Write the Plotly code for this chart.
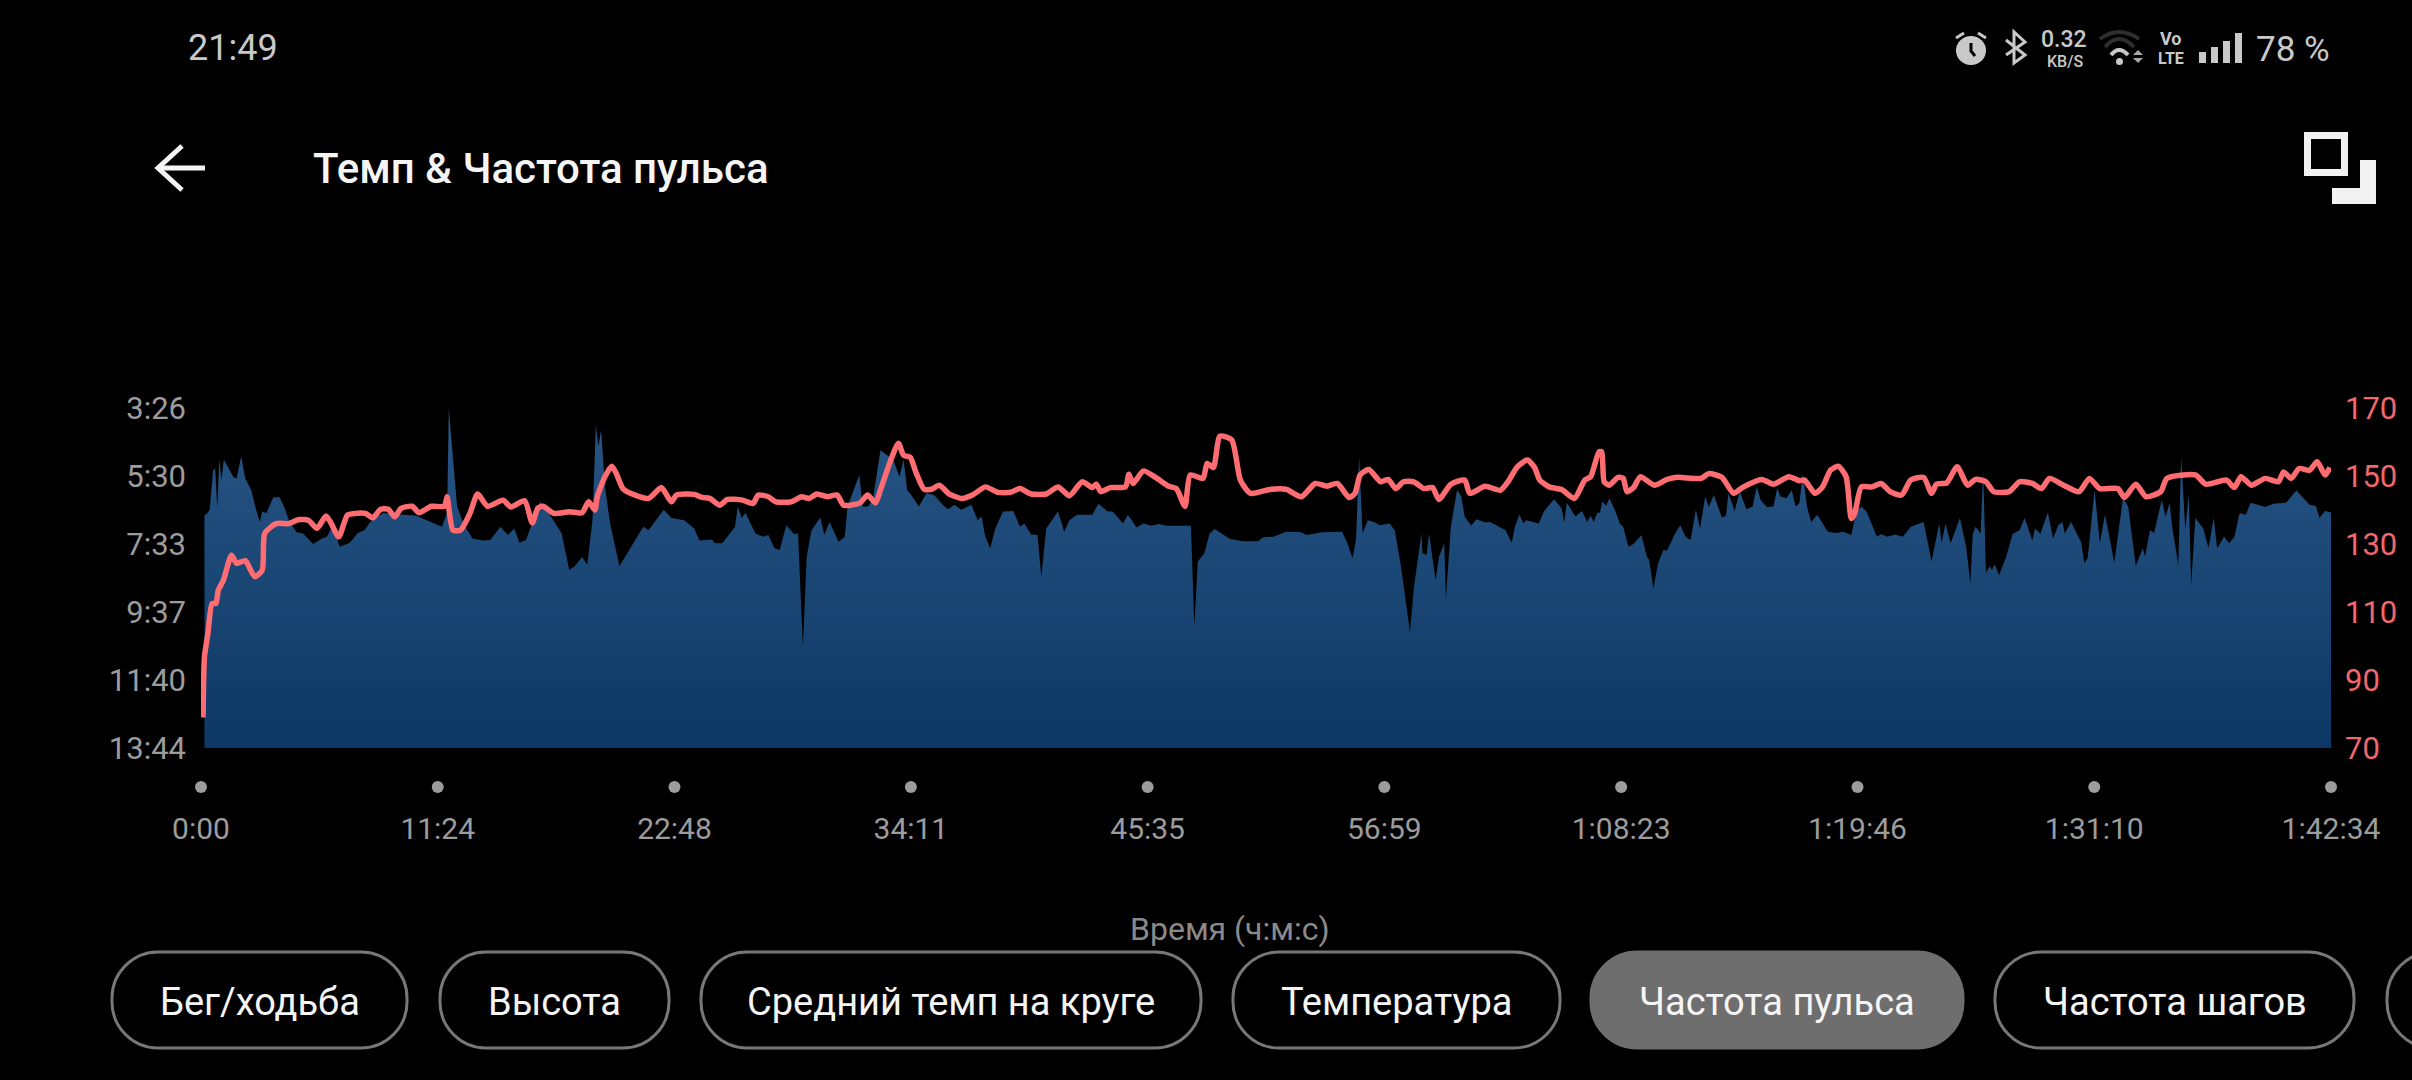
import plotly.graph_objects as go

# time in seconds, pace in seconds per km
pace_t = [10, 15, 25, 35, 41, 47, 53, 59, 66, 84, 94, 103, 116, 128, 145, 158, 170, 177, 189, 209,
          227, 242, 254, 276, 295, 324, 349, 364, 379, 389, 401, 430, 453, 472, 489, 526, 622, 652, 696, 711,
          716, 725, 740, 758, 784, 814, 836, 865, 887, 905, 920, 939, 961, 980, 1005, 1042, 1064, 1079, 1101, 1116,
          1131, 1141, 1148, 1156, 1167, 1182, 1209, 1226, 1253, 1278, 1293, 1337, 1359, 1396, 1425, 1440, 1477, 1484, 1506, 1543,
          1551, 1562, 1573, 1602, 1624, 1639, 1657, 1672, 1691, 1713, 1725, 1739, 1750, 1764, 1789, 1801, 1816, 1842, 1860, 1868,
          1902, 1912, 1927, 1941, 1963, 1986, 2000, 2018, 2030, 2040, 2052, 2074, 2096, 2118, 2143, 2158, 2177, 2196, 2226, 2244,
          2255, 2266, 2280, 2295, 2317, 2347, 2366, 2379, 2398, 2417, 2428, 2442, 2476, 2494, 2509, 2531, 2575, 2593, 2619, 2634,
          2664, 2678, 2703, 2723, 2745, 2767, 2789, 2860, 2870, 2880, 2899, 2914, 2929, 2973, 3010, 3054, 3069, 3098, 3135, 3179,
          3194, 3238, 3297, 3312, 3327, 3337, 3346, 3356, 3371, 3390, 3405, 3434, 3449, 3467, 3493, 3504, 3526, 3529, 3541, 3548,
          3567, 3577, 3592, 3597, 3611, 3629, 3641, 3651, 3670, 3685, 3710, 3725, 3769, 3787, 3796, 3809, 3821, 3828, 3850, 3865,
          3880, 3909, 3931, 3939, 3946, 3971, 3990, 4005, 4015, 4024, 4034, 4042, 4049, 4060, 4069, 4087, 4099, 4109, 4124, 4139,
          4162, 4177, 4184, 4196, 4210, 4225, 4236, 4259, 4274, 4289, 4304, 4319, 4331, 4346, 4356, 4371, 4394, 4406, 4413, 4431,
          4446, 4465, 4483, 4495, 4506, 4524, 4543, 4554, 4563, 4581, 4596, 4607, 4618, 4628, 4640, 4652, 4670, 4700, 4723, 4745,
          4768, 4783, 4797, 4812, 4842, 4854, 4872, 4895, 4917, 4940, 4977, 5000, 5022, 5029, 5040, 5055, 5082, 5100, 5112, 5119,
          5127, 5142, 5149, 5157, 5167, 5175, 5182, 5195, 5216, 5234, 5254, 5269, 5291, 5299, 5314, 5336, 5351, 5366, 5378, 5385,
          5403, 5433, 5441, 5451, 5471, 5486, 5501, 5528, 5553, 5568, 5590, 5610, 5617, 5631, 5643, 5665, 5676, 5688, 5695, 5713,
          5721, 5733, 5743, 5750, 5762, 5785, 5800, 5815, 5825, 5845, 5860, 5875, 5890, 5908, 5922, 5964, 5987, 6024, 6054, 6092,
          6110, 6121, 6136, 6154]
pace_s = [400, 400, 391, 319, 316, 388, 299, 337, 300, 319, 332, 334, 294, 334, 355, 388, 413, 394, 397, 368,
          368, 388, 410, 432, 434, 453, 443, 440, 422, 437, 458, 451, 433, 428, 413, 397, 402, 410, 422, 397,
          207, 276, 385, 416, 443, 447, 446, 422, 437, 425, 451, 446, 410, 376, 397, 434, 500, 494, 477, 491,
          410, 237, 276, 246, 349, 416, 493, 476, 449, 422, 428, 391, 406, 410, 425, 447, 445, 452, 452, 422,
          385, 406, 397, 434, 440, 437, 461, 464, 419, 435, 434, 640, 476, 428, 405, 437, 413, 449, 440, 385,
          328, 385, 385, 373, 283, 293, 300, 331, 300, 355, 364, 385, 361, 364, 382, 390, 382, 391, 382, 410,
          403, 440, 461, 425, 394, 393, 422, 416, 436, 437, 513, 425, 394, 431, 410, 400, 400, 380, 394, 394,
          416, 400, 423, 416, 420, 417, 420, 420, 602, 485, 470, 434, 426, 444, 448, 448, 441, 440, 431, 432,
          437, 432, 431, 452, 479, 446, 294, 434, 410, 413, 419, 416, 428, 494, 613, 534, 434, 470, 473, 434,
          519, 476, 452, 552, 422, 355, 367, 403, 420, 408, 414, 413, 428, 451, 422, 400, 416, 410, 413, 416,
          394, 372, 388, 414, 378, 403, 393, 413, 402, 413, 397, 396, 376, 384, 370, 394, 416, 422, 458, 453,
          437, 476, 482, 534, 488, 464, 465, 434, 419, 440, 446, 391, 425, 367, 386, 364, 405, 402, 361, 393,
          358, 390, 385, 349, 373, 386, 385, 352, 367, 370, 355, 385, 379, 325, 385, 413, 400, 431, 433, 431,
          437, 394, 385, 394, 440, 435, 440, 436, 440, 422, 413, 485, 416, 452, 416, 452, 406, 458, 525, 435,
          422, 434, 319, 506, 494, 500, 490, 510, 476, 435, 428, 406, 447, 425, 435, 396, 443, 419, 413, 434,
          413, 452, 488, 479, 355, 452, 400, 487, 370, 385, 493, 461, 476, 428, 433, 373, 403, 379, 422, 491,
          294, 428, 364, 528, 406, 425, 461, 406, 461, 440, 452, 440, 397, 400, 378, 386, 380, 378, 356, 382,
          384, 406, 393, 396]

hr_t = [6, 10, 20, 32, 43, 50, 65, 88, 103, 128, 155, 177, 184, 217, 254, 283, 310, 335, 361, 374,
        398, 423, 445, 475, 497, 519, 541, 560, 578, 610, 630, 666, 703, 711, 718, 728, 750, 777, 799, 828,
        873, 895, 935, 957, 973, 988, 1020, 1064, 1101, 1120, 1138, 1145, 1167, 1187, 1200, 1219, 1241, 1293, 1330, 1359,
        1374, 1425, 1448, 1470, 1499, 1521, 1565, 1595, 1610, 1639, 1661, 1705, 1735, 1757, 1779, 1809, 1838, 1857, 1904, 1926,
        1949, 1963, 1993, 2015, 2030, 2049, 2067, 2089, 2111, 2133, 2162, 2199, 2229, 2266, 2302, 2339, 2366, 2398, 2442, 2476,
        2509, 2546, 2575, 2587, 2600, 2627, 2671, 2681, 2693, 2723, 2759, 2796, 2818, 2843, 2858, 2895, 2907, 2925, 2944, 2978,
        3003, 3032, 3091, 3135, 3179, 3219, 3253, 3283, 3317, 3334, 3349, 3374, 3408, 3430, 3452, 3474, 3504, 3533, 3558, 3577,
        3611, 3651, 3666, 3710, 3754, 3776, 3803, 3832, 3853, 3868, 3895, 3931, 3968, 3998, 4015, 4039, 4047, 4054, 4069, 4094,
        4109, 4120, 4139, 4159, 4199, 4236, 4266, 4334, 4356, 4394, 4428, 4453, 4509, 4543, 4588, 4618, 4633, 4663, 4685, 4708,
        4730, 4753, 4768, 4778, 4797, 4827, 4854, 4880, 4913, 4940, 4977, 5000, 5014, 5044, 5074, 5104, 5127, 5157, 5179, 5224,
        5254, 5291, 5317, 5341, 5381, 5426, 5456, 5486, 5538, 5557, 5590, 5620, 5662, 5680, 5762, 5792, 5852, 5875, 5894, 5924,
        5964, 6002, 6017, 6039, 6062, 6092, 6114, 6137, 6151]
hr_bpm = [79.0, 96.8, 103.7, 112.5, 112.5, 116.4, 119.4, 126.7, 124.3, 125.1, 120.4, 122.3, 133.1, 136.0, 136.0, 137.2, 137.0, 134.6, 138.2, 136.5,
          132.1, 138.5, 139.0, 139.0, 137.7, 140.2, 140.2, 138.0, 140.5, 141.1, 139.2, 141.1, 141.1, 143.9, 139.0, 134.1, 134.1, 139.0, 144.7, 141.1,
          142.9, 140.9, 142.7, 136.2, 140.5, 141.1, 139.0, 139.5, 139.2, 142.4, 140.0, 143.9, 149.8, 152.9, 150.7, 146.3, 144.9, 143.4, 146.6, 142.4,
          144.4, 144.6, 143.7, 143.4, 141.4, 143.1, 142.9, 141.9, 144.4, 143.9, 142.4, 142.4, 143.9, 143.4, 144.7, 143.9, 144.4, 141.4, 142.1, 144.4,
          142.1, 145.9, 154.7, 159.6, 156.1, 155.5, 150.7, 146.1, 146.1, 147.3, 144.7, 143.4, 144.4, 146.8, 145.2, 145.2, 146.3, 144.7, 144.7, 146.8,
          144.2, 148.3, 146.6, 147.6, 145.4, 146.6, 146.8, 150.5, 147.8, 151.5, 149.5, 147.0, 146.3, 141.1, 150.3, 149.3, 153.7, 152.5, 161.7, 160.6,
          148.8, 144.9, 146.1, 146.1, 143.9, 147.8, 147.0, 147.8, 143.7, 144.9, 150.3, 151.9, 148.3, 149.0, 146.3, 148.3, 148.3, 146.3, 146.6, 143.1,
          147.6, 148.8, 144.9, 147.0, 145.8, 148.3, 152.7, 154.7, 152.5, 148.8, 146.8, 146.0, 143.4, 148.8, 149.8, 157.1, 157.1, 148.3, 147.3, 149.6,
          149.3, 145.4, 146.6, 149.8, 147.3, 149.0, 149.6, 149.3, 150.7, 149.6, 144.9, 146.6, 149.0, 147.6, 149.8, 148.6, 148.8, 144.9, 146.8, 151.7,
          152.9, 149.8, 137.5, 139.0, 146.8, 146.8, 147.8, 145.4, 144.4, 148.8, 149.6, 144.9, 147.6, 148.0, 152.7, 147.3, 149.0, 148.3, 145.4, 145.4,
          148.3, 147.8, 146.3, 149.3, 147.3, 145.4, 149.3, 146.3, 146.3, 143.7, 147.6, 143.9, 145.4, 149.3, 150.3, 147.6, 148.8, 146.6, 149.8, 147.3,
          149.3, 148.3, 151.2, 149.3, 152.2, 151.7, 154.2, 150.3, 152.5]

x_ticks = [0, 684, 1368, 2051, 2735, 3419, 4103, 4786, 5470, 6154]
x_labels = ["0:00", "11:24", "22:48", "34:11", "45:35", "56:59", "1:08:23", "1:19:46", "1:31:10", "1:42:34"]
pace_ticks = [206, 330, 453, 577, 700, 824]
pace_labels = ["3:26", "5:30", "7:33", "9:37", "11:40", "13:44"]
bpm_ticks = [70, 90, 110, 130, 150, 170]

pills = ["Бег/ходьба", "Высота", "Средний темп на круге", "Температура", "Частота пульса", "Частота шагов", ""]
pill_left = [112, 440, 701, 1233, 1591, 1995, 2387]
pill_right = [407, 669, 1201, 1560, 1963, 2354, 2560]

W, H = 2412, 1080
GREY = "#9c9c9c"
STATUS = "#c9c9c9"
HR_COL = "#ff6d72"
FONT = "Roboto"

fig = go.Figure()

# baseline for the area, the reversed pace axis means tozeroy would fill upwards
fig.add_trace(go.Scatter(x=[pace_t[0], pace_t[-1]], y=[pace_ticks[-1], pace_ticks[-1]], mode="lines",
                         line=dict(width=0), hoverinfo="skip", showlegend=False))
fig.add_trace(go.Scatter(x=pace_t, y=pace_s, mode="lines", line=dict(width=0), fill="tonexty",
                         fillgradient=dict(type="vertical", start=pace_ticks[0], stop=pace_ticks[-1],
                                           colorscale=[[0, "#285685"], [1, "#0d3765"]]),
                         hoverinfo="skip", showlegend=False))
fig.add_trace(go.Scatter(x=hr_t, y=hr_bpm, yaxis="y2", mode="lines",
                         line=dict(color=HR_COL, width=5.5, shape="spline", smoothing=0.6),
                         hoverinfo="skip", showlegend=False))
# dots above the time labels, on a thin hidden axis of their own
fig.add_trace(go.Scatter(x=x_ticks, y=[0.5] * len(x_ticks), yaxis="y4", mode="markers", cliponaxis=False,
                         marker=dict(color=GREY, size=12), hoverinfo="skip", showlegend=False))

shapes = []
annots = []


def px_x(x):
    return x / W


def px_y(y):
    return 1 - y / H


def label(text, x, y, size, color, anchor="center", weight=400):
    annots.append(dict(text=text, x=px_x(x), y=px_y(y), xref="paper", yref="paper", showarrow=False, xanchor=anchor,
                       yanchor="middle", font=dict(family=FONT, size=size, color=color, weight=weight)))


def path(points, fill=None, line=None, width=0):
    # points is a list of svg commands with screen pixel pairs
    d = ""
    for cmd, *xy in points:
        d += cmd + " ".join(f"{px_x(xy[i]):.5f},{px_y(xy[i + 1]):.5f}" for i in range(0, len(xy), 2)) + " "
    shapes.append(dict(type="path", xref="paper", yref="paper", path=d, fillcolor=fill or "rgba(0,0,0,0)",
                       line=dict(color=line or "rgba(0,0,0,0)", width=width), layer="above"))


def poly(pts, fill=None, line=None, width=0, close=False):
    cmds = [("M", *pts[0])] + [("L", *p) for p in pts[1:]]
    path(cmds, fill, line, width)
    if close:
        shapes[-1]["path"] += "Z"


def box(x0, y0, x1, y1, fill, kind="rect"):
    shapes.append(dict(type=kind, xref="paper", yref="paper", x0=px_x(x0), y0=px_y(y0), x1=px_x(x1), y1=px_y(y1),
                       fillcolor=fill, line=dict(width=0), layer="above"))


def pill(x0, y0, x1, y1, r, fill, line):
    k = r * 0.45
    cmds = [("M", x0 + r, y0), ("L", x1 - r, y0), ("C", x1 - k, y0, x1, y0 + k, x1, y0 + r),
            ("L", x1, y1 - r), ("C", x1, y1 - k, x1 - k, y1, x1 - r, y1), ("L", x0 + r, y1),
            ("C", x0 + k, y1, x0, y1 - k, x0, y1 - r), ("L", x0, y0 + r), ("C", x0, y0 + k, x0 + k, y0, x0 + r, y0)]
    path(cmds, fill, line, 3)
    shapes[-1]["path"] += "Z"


# status bar
label("21:49", 186, 48, 36, STATUS, "left")
box(1956, 36, 1986, 65, STATUS, "circle")
poly([(1971, 43), (1971, 51), (1975, 56)], line="#000000", width=3)
poly([(1956, 38), (1964, 33)], line=STATUS, width=3)
poly([(1978, 33), (1986, 38)], line=STATUS, width=3)
poly([(2006, 40), (2025, 55), (2014, 63), (2014, 32), (2025, 42), (2006, 55)], line=STATUS, width=3)
label("0.32", 2064, 40, 23, STATUS, weight=500)
label("KB/S", 2065, 62, 16, STATUS, weight=500)
path([("M", 2100, 39), ("Q", 2119, 25, 2139, 39)], line="#2e2e2e", width=4)
path([("M", 2105, 47), ("Q", 2119, 31, 2134, 47)], line="#2e2e2e", width=4)
path([("M", 2111, 55), ("Q", 2119, 45, 2128, 55)], line=STATUS, width=4)
box(2116, 58, 2123, 65, STATUS, "circle")
poly([(2133, 55), (2138, 50), (2143, 55)], fill="#a8a8a8", close=True)
poly([(2133, 58), (2138, 63), (2143, 58)], fill="#a8a8a8", close=True)
label("Vo", 2171, 39, 18, STATUS, weight=700)
label("LTE", 2171, 59, 16, STATUS, weight=700)
box(2199, 52, 2206, 63, STATUS)
box(2211, 47, 2218, 63, STATUS)
box(2223, 41, 2230, 63, STATUS)
box(2235, 33, 2242, 63, STATUS)
label("78 %", 2254, 49, 35, STATUS, "left")

# header
poly([(205, 168), (158, 168)], line="#f5f5f5", width=5)
poly([(182, 146), (158, 168), (182, 190)], line="#f5f5f5", width=5)
label("Темп & Частота пульса", 311, 169, 42, "#f5f5f5", "left", 500)
poly([(2307.5, 135.5), (2344.5, 135.5), (2344.5, 172.5), (2307.5, 172.5)], line="#f2f2f2", width=7, close=True)
poly([(2360, 160), (2376, 160), (2376, 204), (2332, 204), (2332, 188), (2360, 188)], fill="#f2f2f2", close=True)

# time axis caption and the series pills
label("Время (ч:м:с)", 1230, 929, 32, "#8a8a8a")
for i, text in enumerate(pills):
    active = text == "Частота пульса"
    pill(pill_left[i], 952, pill_right[i], 1048, 46, "#6e6e6e" if active else None, "#6e6e6e" if active else "#787878")
    if text:
        label(text, (pill_left[i] + pill_right[i]) / 2, 1002, 38, "#f5f5f5")

fig.update_layout(
    width=W, height=H, margin=dict(l=0, r=0, t=0, b=0), autosize=False,
    paper_bgcolor="#000000", plot_bgcolor="#000000", showlegend=False,
    font=dict(family=FONT, size=30, color=GREY),
    shapes=shapes, annotations=annots,
    xaxis=dict(domain=[201 / W, 2331 / W], range=[0, 6154], anchor="free", position=1 - 808 / H, automargin=False,
               tickvals=x_ticks, ticktext=x_labels, showgrid=False, zeroline=False, showline=False, ticks="",
               tickfont=dict(family=FONT, size=30, color=GREY)),
    yaxis=dict(domain=[1 - 748 / H, 1 - 408 / H], range=[824, 206], tickvals=pace_ticks, ticktext=pace_labels,
               automargin=False, showgrid=False, zeroline=False, showline=False, ticks="", ticklabelstandoff=14,
               tickfont=dict(family=FONT, size=31, color=GREY)),
    yaxis2=dict(domain=[1 - 748 / H, 1 - 408 / H], range=[70, 170], overlaying="y", side="right", anchor="x",
                automargin=False, tickvals=bpm_ticks, showgrid=False, zeroline=False, showline=False, ticks="",
                ticklabelstandoff=13, tickfont=dict(family=FONT, size=31, color="#f0686c")),
    yaxis4=dict(domain=[1 - 797 / H, 1 - 777 / H], range=[0, 1], visible=False, anchor="x", automargin=False),
)

fig.write_html("out.html", config={"displayModeBar": False},
               post_script="document.body.style.margin='0';document.body.style.background='#000';document.body.style.overflow='hidden';")
